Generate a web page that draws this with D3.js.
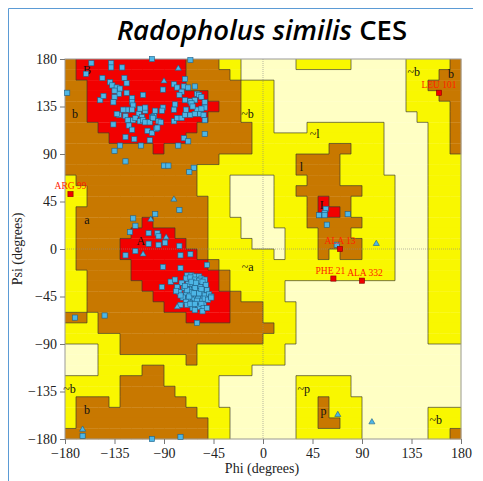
<!DOCTYPE html>
<html>
<head>
<meta charset="utf-8">
<script src="https://cdn.jsdelivr.net/npm/d3@7"></script>
<style>
body { margin: 0; background: #fff; }
</style>
</head>
<body>
<svg id="chart" width="483" height="481"></svg>
<script>
// region map: one string per 10 deg psi row (psi 180 at the top),
// one char per 10 deg phi column (phi -180 at the left)
// '.' disallowed, 'y' generously allowed, 'b' additional allowed, 'r' most favoured
var regionRows = [
	"brrrrrrrrrrbbbyy.....yyyyy.....yyyyb",
	"brrrrrrrrrrbbbby...............yyybb",
	"bbrrrrrrrrrbbbbbyyy............yybbb",
	"bbrrrrrrrrrrrbbbyyy............yyybb",
	"bbrrrrrrrrrrrrbbyyy............yyyyb",
	"bbrrrrrrrrrrrbbbyyy.............yyyb",
	"bbbrrrrrrrrrbbbbbyy...yyyyyyy....yyb",
	"bbbbrrrrrrrbbbbbbyyyyyyyyyyyy....yyb",
	"bbbbbbbbrbbbbbbbbyyyyyyybbyyy....yyb",
	"bbbbbbbbbbbbbbyyyyyyybbbbyyyy....yyy",
	"bbbbbbbbbbbbyyyyyyyyybbbbyyyy....yyy",
	"ybbbbbbbbbbbyyy....yyybbbyyyyy...yyy",
	"yybbbbbbbbbbyyy....yybbbbbbyyy...yyy",
	"yybbbbbbbbbbbyy....yyybrbbyyyy...yyy",
	"ybbbbbbbbbbbbyy....yyybrrbyyyy...yyy",
	"ybbbbbbrbbbbbyyy...yyybbbbbyyy...yyy",
	"ybbbbbrrrrbbbyyy....yyybbbyyyy...yyy",
	"ybbbbrrrrrrbbyyyy...yyybbbbyyy...yyy",
	"ybbbbrrrrrrrbyyyyyy.yyybybbyyy...yyy",
	"ybbbbbrrrrrrrbyyyyyyyyyyyyyyyy...yyy",
	"yybbbbrrrrrrrrbyyyyyyyyyyyyyyy...yyy",
	"yybbbbbrrrrrrrbyyyyy.............yyy",
	"yybbbbbbrrrrrrrbyyyy.............yyy",
	"yybbbbbbbrrrrrrbbbyyy............yyy",
	"bbybbbbbbbbrrrrbbbyyy............yyy",
	"yyybbbbbbbbbbbbbbbbyy............yyy",
	"yyyyybbbbbbbbbbbbbyyy............yyy",
	"...yybbbbbbbyyyyyyyy................",
	"...yyyyyyyybyyyyyyyy................",
	"...yyyybbyyyyyyyy...................",
	"yyyyybbbbyyyyy.......yyyyy..........",
	"yyyyybbbbbyyyy.......yyyyy..........",
	"ybbbybbbbbbyyy.......yybyyy.........",
	"ybbbbbbbbbbbyyy......yybyyy......yyy",
	"ybbbbbbbbbbbbyy......yybbyy......yyy",
	"bbbbbbbbbbbbbyy......yyyyyy......yyb"
];

var regionColors = { '.': '#FFFFC4', y: '#F9F700', b: '#C87800', r: '#F20000' };

var regionLabels = [
	{ text: 'B', phi: -160, psi: 170 },
	{ text: 'b', phi: -171, psi: 128 },
	{ text: '~b', phi: -14, psi: 128 },
	{ text: 'A', phi: -111, psi: 8 },
	{ text: 'a', phi: -160, psi: 28 },
	{ text: '~a', phi: -14, psi: -17 },
	{ text: '~b', phi: -176, psi: -132 },
	{ text: 'b', phi: -160, psi: -152 },
	{ text: '~l', phi: 47, psi: 109 },
	{ text: 'l', phi: 35, psi: 78 },
	{ text: 'L', phi: 55, psi: 42 },
	{ text: '~b', phi: 137, psi: 168 },
	{ text: 'b', phi: 171, psi: 166 },
	{ text: '~p', phi: 37, psi: -132 },
	{ text: 'p', phi: 55, psi: -153 },
	{ text: '~b', phi: 157, psi: -162 }
];

// non-glycine residues [phi, psi]
var residues = [
	[-156,176],[-161,166],[-138,176],[-138,172],[-128,172],[-101,180],[-66,179],[-146,162],
	[-139,158],[-126,162],[-124,157],[-137,155],[-133,153],[-130,152],[-131,147],[-135,150],
	[-135,144],[-136,139],[-148,141],[-145,145],[-119,143],[-119,139],[-118,136],[-124,148],
	[-109,146],[-91,151],[-81,156],[-71,161],[-78,153],[-72,154],[-68,153],[-62,154],
	[-74,149],[-76,146],[-71,141],[-66,140],[-60,147],[-58,146],[-56,144],[-53,139],
	[-62,141],[-65,138],[-60,132],[-64,135],[-70,132],[-80,137],[-81,132],[-91,134],
	[-92,131],[-98,131],[-99,126],[-101,125],[-107,131],[-107,134],[-112,133],[-113,128],
	[-119,132],[-124,132],[-127,132],[-131,127],[-133,128],[-125,126],[-123,122],[-118,122],
	[-116,124],[-110,125],[-112,121],[-109,122],[-107,120],[-103,120],[-100,124],[-95,121],
	[-93,120],[-81,121],[-78,124],[-74,124],[-71,127],[-66,127],[-62,128],[-57,128],
	[-54,127],[-53,134],[-56,133],[-53,122],[-136,118],[-122,117],[-119,113],[-105,112],
	[-101,110],[-97,114],[-96,115],[-125,106],[-117,104],[-103,103],[-72,105],[-68,102],
	[-53,109],[-130,98],[-135,93],[-111,98],[-77,98],[-125,83],[-90,79],[-86,79],
	[-63,77],[-67,73],[-76,37],[-178,148],
	[-118,29],[-116,22],[-98,33],[-121,16],[-104,15],[-96,15],[-95,12],[-104,5],
	[-95,4],[-89,6],[-76,3],[-116,-2],[-125,-6],[-75,-6],[-66,-5],[-91,-17],
	[-75,-18],[-51,-15],[-92,-36],[-84,-31],[-80,-29],[-69,-25],[-65,-25],[-62,-26],
	[-58,-26],[-56,-28],[-53,-29],
	[-70,-28],[-66,-27],[-62,-29],[-58,-30],[-55,-31],[-74,-32],[-68,-33],[-64,-34],
	[-60,-35],[-57,-36],[-52,-34],[-78,-36],[-72,-37],[-67,-38],[-63,-39],[-59,-40],
	[-55,-41],[-51,-39],[-76,-41],[-70,-42],[-65,-43],[-61,-44],[-57,-45],[-53,-44],
	[-49,-43],[-73,-46],[-68,-47],[-63,-48],[-59,-47],[-55,-49],[-66,-51],[-61,-52],
	[-57,-53],[-70,-50],[-64,-56],[-60,-40],[-62,-37],[-66,-41],[-58,-42],[-69,-39],
	[-71,-35],[-65,-31],[-61,-32],[-56,-38],[-53,-47],[-67,-45],[-63,-42],[-60,-49],
	[-75,-44],[-79,-40],[-54,-52],[-58,-55],[-62,-58],[-50,-48],[-47,-45],
	[-75,-53],[-69,-53],[-66,-52],[-62,-52],[-56,-52],[-54,-56],[-55,-59],[-51,-56],
	[-47,-46],[-60,-70],[-171,-65],[-144,-63],[-164,-177],[-101,-180],[-75,-178],
	[57,38],[56,34],[51,32],[56,32],[77,33],[58,23],[67,4]
];

// glycines [phi, psi]
var glycines = [
	[-77,171],[-90,159],[-81,47],[-102,28],[-88,11],[-109,-5],[-78,-55],
	[-164,-171],[103,5],[68,-157],[99,-164]
];

// labelled residues outside the favoured regions
var outlierNames = ['ARG 99', 'LEU 101', 'ALA 13', 'PHE 21', 'ALA 332'];
var outlierPhi = [-175, 160, 70, 64, 90];
var outlierPsi = [52, 148, 0, -28, -30];
var outlierShift = [0, 0, 0, -3, 3];

var tickValues = [-180, -135, -90, -45, 0, 45, 90, 135, 180];

var svg = d3.select('#chart');

var x = d3.scaleLinear().domain([-180, 180]).range([65, 461]);
var y = d3.scaleLinear().domain([-180, 180]).range([439, 59]);

// outer slide frame
svg.append('path')
	.attr('d', 'M8.5,481 L8.5,8.5 L473,8.5')
	.style('fill', 'none')
	.style('stroke', '#5B9BD5')
	.style('stroke-width', 1);

// title
var title = svg.append('text')
	.attr('x', 262)
	.attr('y', 40)
	.attr('text-anchor', 'middle')
	.style('font-family', 'Open Sans, Noto Sans, sans-serif')
	.style('font-size', '27.5px')
	.style('font-weight', 600)
	.style('fill', '#000');
title.append('tspan').style('font-style', 'italic').text('Radopholus similis');
title.append('tspan').text(' CES');

// region cells
var cells = [];
regionRows.forEach(function(row, j) {
	row.split('').forEach(function(c, i) {
		cells.push({ i: i, j: j, c: c });
	});
});

var plot = svg.append('g');

plot.selectAll('.cell')
	.data(cells)
	.enter()
	.append('rect')
	.attr('class', 'cell')
	.attr('x', function(d) { return x(-180 + d.i * 10); })
	.attr('y', function(d) { return y(180 - d.j * 10); })
	.attr('width', function(d) { return x(-170 + d.i * 10) - x(-180 + d.i * 10) + 0.3; })
	.attr('height', function(d) { return y(170 - d.j * 10) - y(180 - d.j * 10) + 0.3; })
	.style('fill', function(d) { return regionColors[d.c]; });

// dark edges between regions
var edges = d3.path();
regionRows.forEach(function(row, j) {
	for (var i = 0; i < row.length; i++) {
		if (i < row.length - 1 && row[i] !== row[i + 1]) {
			edges.moveTo(x(-170 + i * 10), y(180 - j * 10));
			edges.lineTo(x(-170 + i * 10), y(170 - j * 10));
		}
		if (j < regionRows.length - 1 && row[i] !== regionRows[j + 1][i]) {
			edges.moveTo(x(-180 + i * 10), y(170 - j * 10));
			edges.lineTo(x(-170 + i * 10), y(170 - j * 10));
		}
	}
});
plot.append('path')
	.attr('d', edges.toString())
	.style('fill', 'none')
	.style('stroke', '#3a3a2a')
	.style('stroke-width', 0.9)
	.style('stroke-opacity', 0.75);

// zero lines
plot.append('line')
	.attr('x1', x(0)).attr('x2', x(0))
	.attr('y1', y(180)).attr('y2', y(-180))
	.style('stroke', '#888').style('stroke-width', 0.6).style('stroke-dasharray', '1,1');
plot.append('line')
	.attr('x1', x(-180)).attr('x2', x(180))
	.attr('y1', y(0)).attr('y2', y(0))
	.style('stroke', '#888').style('stroke-width', 0.6).style('stroke-dasharray', '1,1');

// plot frame
plot.append('rect')
	.attr('x', x(-180))
	.attr('y', y(180))
	.attr('width', x(180) - x(-180))
	.attr('height', y(-180) - y(180))
	.style('fill', 'none')
	.style('stroke', '#999')
	.style('stroke-width', 1);

// region labels
plot.selectAll('.region-label')
	.data(regionLabels)
	.enter()
	.append('text')
	.attr('class', 'region-label')
	.attr('x', function(d) { return x(d.phi); })
	.attr('y', function(d) { return y(d.psi); })
	.attr('text-anchor', 'middle')
	.attr('dy', '0.35em')
	.style('font-family', 'Liberation Serif, serif')
	.style('font-size', '12px')
	.style('fill', '#111')
	.text(function(d) { return d.text; });

// axes
var xAxis = d3.axisBottom(x).tickValues(tickValues).tickSize(5).tickPadding(4);
var yAxis = d3.axisLeft(y).tickValues(tickValues).tickSize(5).tickPadding(3);

svg.append('g')
	.attr('transform', 'translate(0,' + y(-180) + ')')
	.call(xAxis);
svg.append('g')
	.attr('transform', 'translate(' + x(-180) + ',0)')
	.call(yAxis);

svg.selectAll('.domain').remove();
svg.selectAll('.tick line').style('stroke', '#777');
svg.selectAll('.tick text')
	.style('font-family', 'Liberation Serif, serif')
	.style('font-size', '14px')
	.style('fill', '#222');

svg.append('text')
	.attr('x', 262)
	.attr('y', 473)
	.attr('text-anchor', 'middle')
	.style('font-family', 'Liberation Serif, serif')
	.style('font-size', '14px')
	.style('fill', '#222')
	.text('Phi (degrees)');

svg.append('text')
	.attr('transform', 'translate(22,' + y(0) + ') rotate(-90)')
	.attr('text-anchor', 'middle')
	.style('font-family', 'Liberation Serif, serif')
	.style('font-size', '14px')
	.style('fill', '#222')
	.text('Psi (degrees)');

// residues
var pts = svg.append('g');

pts.selectAll('.res')
	.data(residues)
	.enter()
	.append('rect')
	.attr('class', 'res')
	.attr('x', function(d) { return x(d[0]) - 2.6; })
	.attr('y', function(d) { return y(d[1]) - 2.6; })
	.attr('width', 5.2)
	.attr('height', 5.2)
	.style('fill', '#4DB6E6')
	.style('stroke', '#1F5F86')
	.style('stroke-width', 0.6);

pts.selectAll('.gly')
	.data(glycines)
	.enter()
	.append('path')
	.attr('class', 'gly')
	.attr('transform', function(d) { return 'translate(' + x(d[0]) + ',' + y(d[1]) + ')'; })
	.attr('d', d3.symbol().type(d3.symbolTriangle).size(16))
	.style('fill', '#4DB6E6')
	.style('stroke', '#1F5F86')
	.style('stroke-width', 0.6);

var outliers = outlierNames.map(function(n, k) {
	return { name: n, phi: outlierPhi[k], psi: outlierPsi[k], shift: outlierShift[k] };
});

pts.selectAll('.out')
	.data(outliers)
	.enter()
	.append('rect')
	.attr('class', 'out')
	.attr('x', function(d) { return x(d.phi) - 2.6; })
	.attr('y', function(d) { return y(d.psi) - 2.6; })
	.attr('width', 5.2)
	.attr('height', 5.2)
	.style('fill', '#F00000')
	.style('stroke', '#8a0000')
	.style('stroke-width', 0.6);

pts.selectAll('.out-label')
	.data(outliers)
	.enter()
	.append('text')
	.attr('class', 'out-label')
	.attr('x', function(d) { return x(d.phi) + d.shift; })
	.attr('y', function(d) { return y(d.psi) - 5; })
	.attr('text-anchor', 'middle')
	.style('font-family', 'Liberation Serif, serif')
	.style('font-size', '9.5px')
	.style('fill', '#FF2200')
	.text(function(d) { return d.name; });
</script>
</body>
</html>
